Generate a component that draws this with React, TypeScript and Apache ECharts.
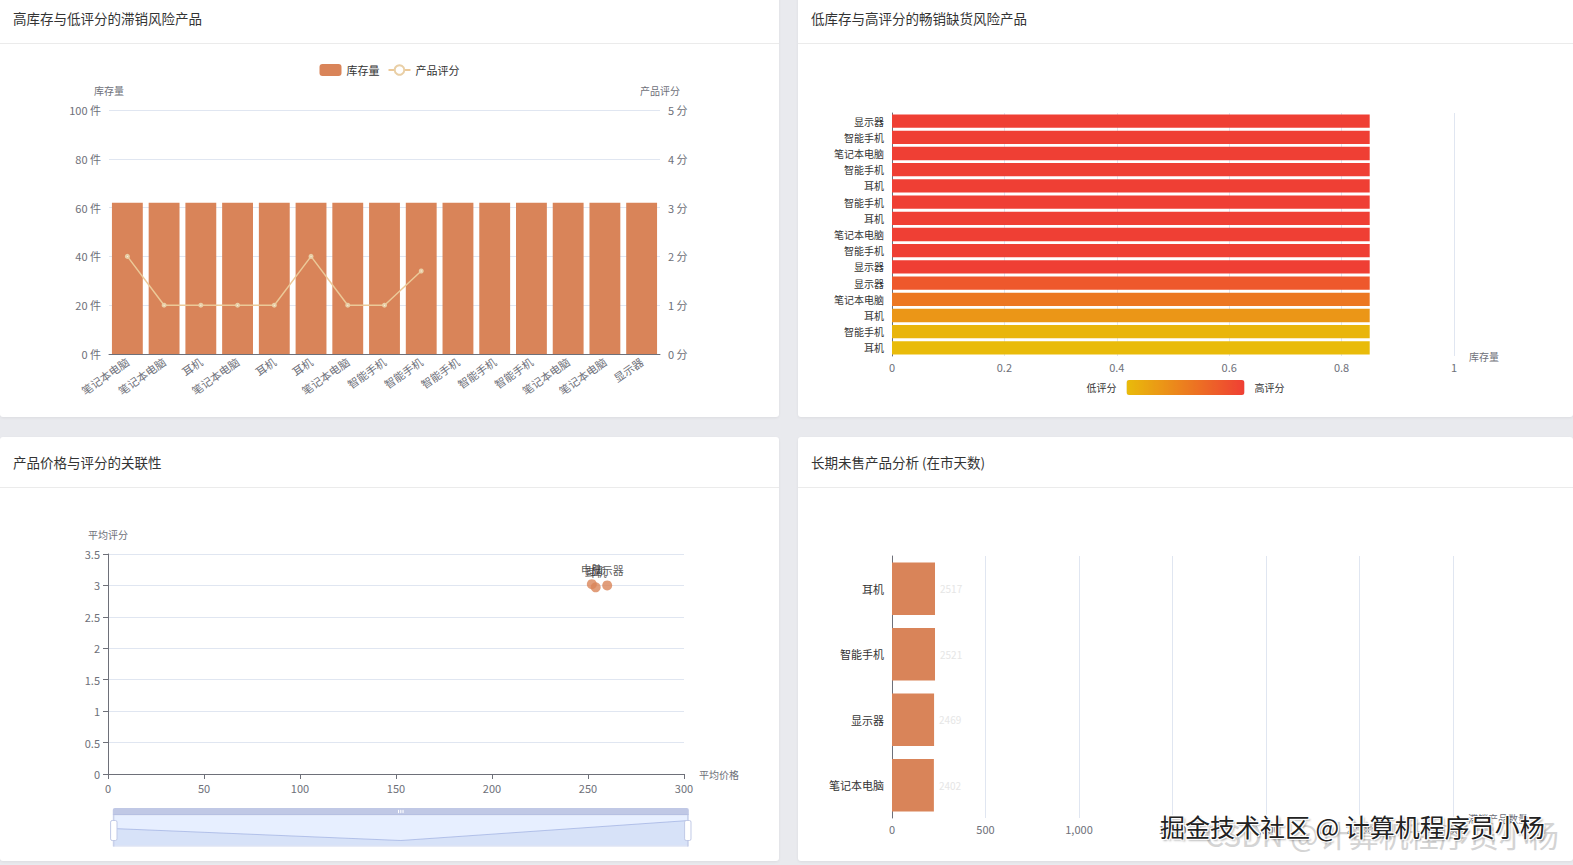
import React, { useEffect, useRef } from 'react';
import * as echarts from 'echarts';

const FONT = '"Noto Sans CJK SC", "Noto Sans", sans-serif';
const BAR_COLOR = '#d98459';

// Panel 1: 高库存与低评分的滞销风险产品
const slowCats = ['笔记本电脑', '笔记本电脑', '耳机', '笔记本电脑', '耳机', '耳机', '笔记本电脑', '智能手机', '智能手机', '智能手机', '智能手机', '智能手机', '笔记本电脑', '笔记本电脑', '显示器'];
const slowStock = [62, 62, 62, 62, 62, 62, 62, 62, 62, 62, 62, 62, 62, 62, 62];
const slowRating = [2, 1, 1, 1, 1, 2, 1, 1, 1.7, null, null, null, null, null, null];

// Panel 2: 低库存与高评分的畅销缺货风险产品 (bottom -> top)
const hotCats = ['耳机', '智能手机', '耳机', '笔记本电脑', '显示器', '显示器', '智能手机', '笔记本电脑', '耳机', '智能手机', '耳机', '智能手机', '笔记本电脑', '智能手机', '显示器'];
const hotStock = [0.85, 0.85, 0.85, 0.85, 0.85, 0.85, 0.85, 0.85, 0.85, 0.85, 0.85, 0.85, 0.85, 0.85, 0.85];
const hotRating = [3.0, 3.1, 3.6, 4.1, 4.6, 5, 5, 5, 5, 5, 5, 5, 5, 5, 5];

// Panel 3: 产品价格与评分的关联性
const priceNames = ['显示器', '耳机', '电脑'];
const avgPrice = [260, 254, 252];
const avgRating = [3.0, 2.97, 3.02];

// Panel 4: 长期未售产品分析 (bottom -> top)
const unsoldCats = ['笔记本电脑', '显示器', '智能手机', '耳机'];
const unsoldCount = [224, 225, 230, 230];
const unsoldDays = [2402, 2469, 2521, 2517];

const axisLabel = { color: '#6E7079', fontSize: 11, fontFamily: FONT };
const axisName = { color: '#6E7079', fontSize: 10, fontFamily: FONT };

function useChart(build: () => any) {
  const ref = useRef<HTMLDivElement>(null);
  useEffect(() => {
    if (!ref.current) return;
    const chart = echarts.init(ref.current, undefined, { renderer: 'svg' });
    chart.setOption(build());
    return () => chart.dispose();
  }, []);
  return ref;
}

function Panel({ left, top, width, height, title, children }: any) {
  return (
    <div style={{ position: 'absolute', left, top, width, height, background: '#fff', borderRadius: 3, boxShadow: '0 1px 3px rgba(0,0,0,0.06)', overflow: 'hidden' }}>
      <div style={{ height: 51, borderBottom: '1px solid #ebebeb', display: 'flex', alignItems: 'center', paddingLeft: 13, fontSize: 13.5, color: '#333', fontFamily: FONT, boxSizing: 'border-box' }}>{title}</div>
      {children}
    </div>
  );
}

export default function App() {
  const ref1 = useChart(() => ({
    animation: false,
    textStyle: { fontFamily: FONT },
    legend: {
      top: 15, left: 'center', itemWidth: 22, itemHeight: 12, itemGap: 8,
      textStyle: { fontSize: 11, color: '#333', fontFamily: FONT },
      data: ['库存量', '产品评分'],
    },
    grid: { left: 109, right: 119, top: 66, bottom: 63 },
    xAxis: {
      type: 'category', data: slowCats,
      axisLabel: { ...axisLabel, rotate: 35, interval: 0, margin: 6 },
      axisLine: { lineStyle: { color: '#6E7079' } },
    },
    yAxis: [
      { type: 'value', name: '库存量', min: 0, max: 100, interval: 20, nameTextStyle: axisName,
        axisLabel: { ...axisLabel, formatter: '{value} 件' }, splitLine: { lineStyle: { color: '#E0E6F1' } } },
      { type: 'value', name: '产品评分', min: 0, max: 5, interval: 1, nameTextStyle: axisName,
        axisLabel: { ...axisLabel, formatter: '{value} 分' }, splitLine: { show: false } },
    ],
    series: [
      { name: '库存量', type: 'bar', data: slowStock, barCategoryGap: '16%', itemStyle: { color: BAR_COLOR } },
      { name: '产品评分', type: 'line', yAxisIndex: 1, data: slowRating, symbol: 'emptyCircle', symbolSize: 3,
        connectNulls: false, itemStyle: { color: '#e9cfa6' }, lineStyle: { color: '#ecc998', width: 1.5 } },
    ],
  }));

  const ref2 = useChart(() => ({
    animation: false,
    textStyle: { fontFamily: FONT },
    grid: { left: 94, right: 119, top: 69, bottom: 61 },
    xAxis: {
      type: 'value', name: '库存量', min: 0, max: 1, interval: 0.2, nameTextStyle: axisName,
      axisLabel: { ...axisLabel, margin: 5 }, splitLine: { lineStyle: { color: '#E0E6F1' } },
    },
    yAxis: {
      type: 'category', data: hotCats,
      axisLabel: { ...axisLabel, fontSize: 10, color: '#333', interval: 0 },
      axisLine: { lineStyle: { color: '#6E7079' } },
    },
    visualMap: {
      type: 'continuous', orient: 'horizontal', left: 'center', bottom: 7,
      min: 3, max: 5, dimension: 2, seriesIndex: 0, calculable: false,
      itemWidth: 15, itemHeight: 118, text: ['高评分', '低评分'],
      textStyle: { fontSize: 10, color: '#333', fontFamily: FONT },
      inRange: { color: ['#e9bb0a', '#ef3f34'] },
    },
    series: [{
      type: 'bar', barCategoryGap: '18%', encode: { x: 0, y: 1 },
      data: hotStock.map((v, i) => [v, i, hotRating[i]]),
    }],
  }));

  const ref3 = useChart(() => ({
    animation: false,
    textStyle: { fontFamily: FONT },
    grid: { left: 108, right: 95, top: 66, bottom: 87 },
    xAxis: {
      type: 'value', name: '平均价格', min: 0, max: 300, interval: 50, nameTextStyle: axisName,
      axisLabel: axisLabel, splitLine: { show: false },
      axisLine: { show: true, lineStyle: { color: '#6E7079' } }, axisTick: { show: true },
    },
    yAxis: {
      type: 'value', name: '平均评分', min: 0, max: 3.5, interval: 0.5, nameTextStyle: axisName,
      axisLabel: axisLabel, splitLine: { lineStyle: { color: '#E0E6F1' } },
      axisLine: { show: true, lineStyle: { color: '#6E7079' } }, axisTick: { show: true },
    },
    dataZoom: [{ type: 'slider', xAxisIndex: 0, left: 110, right: 93, top: 320, height: 32, start: 0, end: 100, showDetail: false }],
    series: [{
      type: 'scatter', symbolSize: 10,
      itemStyle: { color: BAR_COLOR },
      label: { show: true, position: 'top', formatter: '{b}', fontSize: 11, color: '#333', fontFamily: FONT },
      data: avgPrice.map((p, i) => ({ name: priceNames[i], value: [p, avgRating[i]] })),
    }],
  }));

  const ref4 = useChart(() => ({
    animation: false,
    textStyle: { fontFamily: FONT },
    grid: { left: 94, right: 120, top: 68, bottom: 43 },
    xAxis: {
      type: 'value', name: '滞销产品数量', min: 0, max: 3000, interval: 500, nameTextStyle: axisName,
      axisLabel: { ...axisLabel, margin: 5 }, splitLine: { lineStyle: { color: '#E0E6F1' } },
    },
    yAxis: {
      type: 'category', data: unsoldCats,
      axisLabel: { ...axisLabel, color: '#333' },
      axisLine: { lineStyle: { color: '#6E7079' } },
    },
    series: [{
      type: 'bar', data: unsoldCount, barCategoryGap: '20%', itemStyle: { color: BAR_COLOR },
      label: { show: true, position: 'right', fontSize: 10, color: '#e6e6e6',
        formatter: (p: any) => String(unsoldDays[p.dataIndex]) },
    }],
  }));

  return (
    <div style={{ position: 'fixed', left: 0, top: 0, width: 1573, height: 865, background: '#e9eaee', overflow: 'hidden' }}>
      <Panel left={0} top={-7} width={779} height={424} title="高库存与低评分的滞销风险产品">
        <div ref={ref1} style={{ position: 'absolute', left: 0, top: 51, width: 779, height: 373 }} />
      </Panel>
      <Panel left={798} top={-7} width={775} height={424} title="低库存与高评分的畅销缺货风险产品">
        <div ref={ref2} style={{ position: 'absolute', left: 0, top: 51, width: 775, height: 373 }} />
      </Panel>
      <Panel left={0} top={437} width={779} height={424} title="产品价格与评分的关联性">
        <div ref={ref3} style={{ position: 'absolute', left: 0, top: 51, width: 779, height: 373 }} />
      </Panel>
      <Panel left={798} top={437} width={775} height={424} title="长期未售产品分析 (在市天数)">
        <div ref={ref4} style={{ position: 'absolute', left: 0, top: 51, width: 775, height: 373 }} />
      </Panel>
      <div style={{ position: 'absolute', left: 1205, top: 812, fontSize: 30, color: '#d4d4d4', fontFamily: FONT, whiteSpace: 'nowrap' }}>CSDN @计算机程序员小杨</div>
      <div style={{ position: 'absolute', left: 1160, top: 808, fontSize: 25, color: '#222', fontFamily: FONT, whiteSpace: 'nowrap',
        textShadow: '1px 1px 0 #fff, -1px -1px 0 #fff, 1px -1px 0 #fff, -1px 1px 0 #fff, 2px 2px 2px rgba(0,0,0,0.3)' }}>掘金技术社区 @ 计算机程序员小杨</div>
    </div>
  );
}
